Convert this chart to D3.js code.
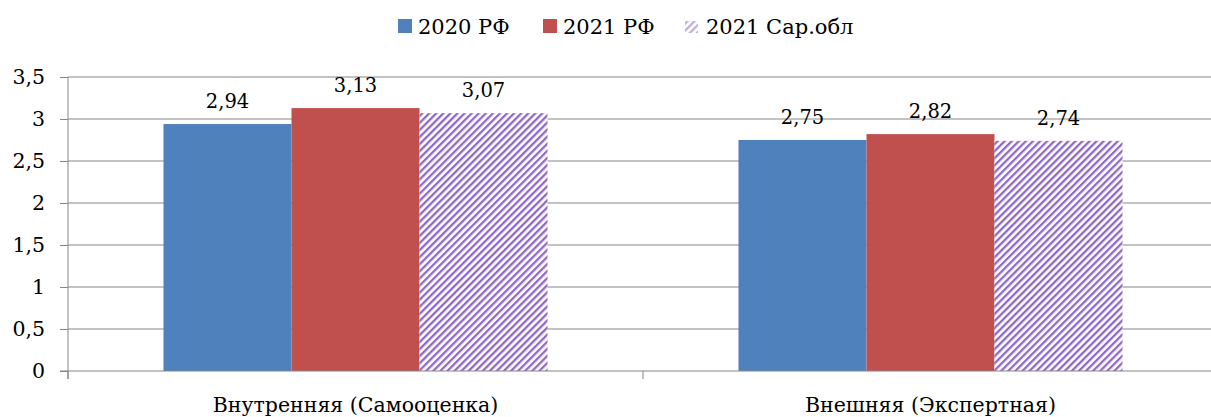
<!DOCTYPE html>
<html>
<head>
<meta charset="utf-8">
<script src="https://cdn.jsdelivr.net/npm/d3@7"></script>
<style>
  body { margin: 0; background: #fff; }
</style>
</head>
<body>
<div id="chart"></div>
<script>
let svgWidth = 1211;
let svgHeight = 417;
let numFont = "'DejaVu Serif', serif";

let margin = { top: 77, right: -7, bottom: 46, left: 68 };
let width = svgWidth - margin.left - margin.right;
let height = svgHeight - margin.top - margin.bottom;

// data
let categories = ["Внутренняя (Самооценка)", "Внешняя (Экспертная)"];
let seriesNames = ["2020 РФ", "2021 РФ", "2021 Сар.обл"];
let values2020RF = [2.94, 2.75];
let values2021RF = [3.13, 2.82];
let values2021Sar = [3.07, 2.74];
let yTicks = [0, 0.5, 1, 1.5, 2, 2.5, 3, 3.5];

let seriesValues = [values2020RF, values2021RF, values2021Sar];
let colors = ["#4f81bd", "#c0504d", "url(#hatch)"];

let svg = d3.select("#chart")
  .append("svg")
  .attr("width", svgWidth)
  .attr("height", svgHeight);

// hatch pattern for the third series
let defs = svg.append("defs");
let pat = defs.append("pattern")
  .attr("id", "hatch")
  .attr("patternUnits", "userSpaceOnUse")
  .attr("width", 5)
  .attr("height", 5)
  .attr("patternTransform", "rotate(45)");
pat.append("rect").attr("width", 5).attr("height", 5).attr("fill", "#fff");
pat.append("rect").attr("width", 2.3).attr("height", 5).attr("fill", "#9068c8");

let chartGroup = svg.append("g")
  .attr("transform", `translate(${margin.left}, ${margin.top})`);

let x0 = d3.scaleBand()
  .domain(categories)
  .range([0, width]);

let x1 = d3.scaleBand()
  .domain(seriesNames)
  .range([0, x0.bandwidth()])
  .paddingInner(0)
  .paddingOuter(0.746);

let y = d3.scaleLinear()
  .domain([0, 3.5])
  .range([height, 0]);

// gridlines
chartGroup.selectAll(".grid")
  .data(yTicks.filter(d => d > 0))
  .enter()
  .append("line")
  .attr("x1", 0)
  .attr("x2", width)
  .attr("y1", d => y(d))
  .attr("y2", d => y(d))
  .attr("stroke", "#868686")
  .attr("stroke-width", 1);

// bars
let groups = chartGroup.selectAll(".cat")
  .data(categories)
  .enter()
  .append("g")
  .attr("transform", d => `translate(${x0(d)}, 0)`);

groups.selectAll("rect")
  .data((d, i) => seriesNames.map((s, j) => ({ s: s, v: seriesValues[j][i], j: j })))
  .enter()
  .append("rect")
  .attr("x", d => x1(d.s))
  .attr("width", x1.bandwidth())
  .attr("y", d => y(d.v))
  .attr("height", d => height - y(d.v))
  .attr("fill", d => colors[d.j]);

groups.selectAll(".lbl")
  .data((d, i) => seriesNames.map((s, j) => ({ s: s, v: seriesValues[j][i] })))
  .enter()
  .append("text")
  .attr("x", d => x1(d.s) + x1.bandwidth() / 2)
  .attr("y", d => y(d.v) - 16)
  .attr("text-anchor", "middle")
  .style("font-family", numFont)
  .style("font-size", "19.5px")
  .text(d => d3.format(".2f")(d.v).replace(".", ","));

// y axis
let yAxis = d3.axisLeft(y)
  .tickValues(yTicks)
  .tickSize(8)
  .tickPadding(15)
  .tickFormat(d => String(d).replace(".", ","));

let yg = chartGroup.append("g").call(yAxis);
yg.select(".domain").attr("stroke", "#868686").attr("d", `M0,0V${height + 8}`);
yg.selectAll(".tick line").attr("stroke", "#868686");
yg.selectAll(".tick text")
  .style("font-family", numFont)
  .style("font-size", "20.5px")
  .attr("fill", "#000");

// x axis
let xAxis = d3.axisBottom(x0)
  .tickSize(0)
  .tickPadding(26);
let xg = chartGroup.append("g")
  .attr("transform", `translate(0, ${height})`)
  .call(xAxis);
xg.select(".domain").attr("stroke", "#868686").attr("d", `M-8,0H${width}`);
xg.selectAll(".tick text")
  .style("font-family", numFont)
  .style("font-size", "20.5px")
  .attr("fill", "#000");

// category separators
chartGroup.selectAll(".sep")
  .data(categories)
  .enter()
  .append("line")
  .attr("x1", d => x0(d))
  .attr("x2", d => x0(d))
  .attr("y1", height)
  .attr("y2", height + 8)
  .attr("stroke", "#868686");

// legend
let legendX = [398, 543, 685];
let legend = svg.append("g");
seriesNames.forEach((s, i) => {
  legend.append("rect")
    .attr("x", legendX[i])
    .attr("y", i < 2 ? 19 : 21)
    .attr("width", i < 2 ? 14 : 13)
    .attr("height", i < 2 ? 14 : 12)
    .attr("fill", colors[i])
    .attr("opacity", i < 2 ? 1 : 0.55);
  legend.append("text")
    .attr("x", legendX[i] + (i < 2 ? 20 : 21))
    .attr("y", 34)
    .style("font-family", numFont)
    .style("font-size", "21px")
    .text(s);
});
</script>
</body>
</html>
